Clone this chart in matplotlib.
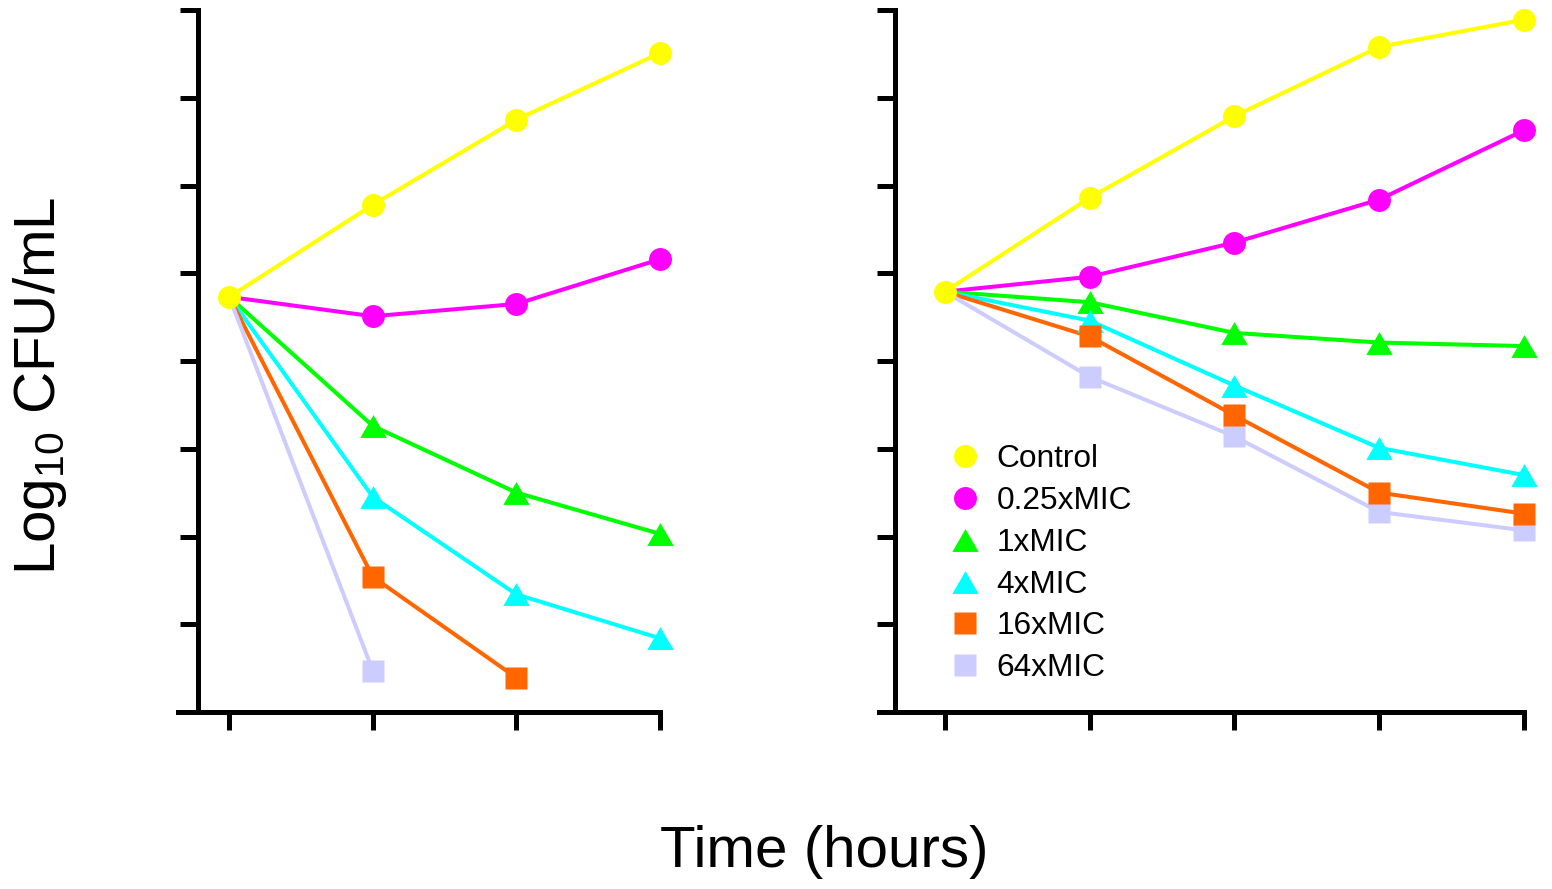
import matplotlib
matplotlib.use("Agg")
import matplotlib.pyplot as plt
from matplotlib.path import Path
from matplotlib.lines import Line2D

plt.rcParams['font.family'] = ['Liberation Sans', 'DejaVu Sans']
plt.rcParams['mathtext.fontset'] = 'custom'
plt.rcParams['mathtext.rm'] = 'Liberation Sans'
plt.rcParams['mathtext.default'] = 'regular'

# ---- data (log10 CFU/mL) ----
series_names = ["Control", "0.25xMIC", "1xMIC", "4xMIC", "16xMIC", "64xMIC"]

left_time_idx = [0, 1, 2, 3]
left_control = [4.73, 5.78, 6.75, 7.51]
left_q025 = [4.73, 4.51, 4.65, 5.16]
left_mic1 = [4.73, 3.26, 2.50, 2.03]
left_mic4 = [4.73, 2.45, 1.34, 0.84]
left_mic16 = [4.73, 1.54, 0.39]
left_mic64 = [4.73, 0.47]

right_time_idx = [0, 1, 2, 3, 4]
right_control = [4.79, 5.86, 6.79, 7.58, 7.89]
right_q025 = [4.79, 4.96, 5.35, 5.84, 6.63]
right_mic1 = [4.79, 4.67, 4.32, 4.21, 4.17]
right_mic4 = [4.79, 4.46, 3.72, 3.01, 2.70]
right_mic16 = [4.79, 4.28, 3.38, 2.50, 2.26]
right_mic64 = [4.79, 3.82, 3.14, 2.28, 2.07]

y_ticks = [0, 1, 2, 3, 4, 5, 6, 7, 8]

# ---- styles ----
tri = Path([(0, 0.866), (-1, -0.866), (1, -0.866), (0, 0.866)],
           [Path.MOVETO, Path.LINETO, Path.LINETO, Path.CLOSEPOLY])
colors = ["#FFFF00", "#FF00FF", "#00FF00", "#00FFFF", "#FF6600", "#CCCCFF"]
markers = ["o", "o", tri, tri, "s", "s"]
msizes = [16.5, 16.5, 19, 19, 16, 16]
mzorder = [9, 8, 5, 6, 7, 4]
LW = 2.9

fig = plt.figure(figsize=(15.52, 8.89), dpi=100)
W, H = 1552, 889


def make_axes(x0, x1, y_top, y_bot):
    return fig.add_axes([x0 / W, (H - y_bot) / H, (x1 - x0) / W, (y_bot - y_top) / H])


def style_axes(ax, xmin, xmax, yaxis_x, xticks):
    ax.set_xlim(xmin, xmax)
    ax.set_ylim(0, 8)
    for s in ("top", "right"):
        ax.spines[s].set_visible(False)
    for s in ("left", "bottom"):
        ax.spines[s].set_linewidth(3.6)
        ax.spines[s].set_capstyle("projecting")
    ax.spines["left"].set_position(("data", yaxis_x))
    ax.set_xticks(xticks)
    ax.set_yticks(y_ticks)
    ax.tick_params(axis="both", direction="out", length=13, width=3.6,
                   labelbottom=False, labelleft=False)
    ax.patch.set_visible(False)


def draw_series(ax, x, ys):
    for i, y in enumerate(ys):
        xs = x[:len(y)]
        ax.plot(xs, y, color=colors[i], lw=LW, zorder=2, clip_on=False,
                solid_capstyle="round")
        # the shared starting point is shown by the control marker only
        every = None if i == 0 else slice(1, None)
        ax.plot(xs, y, linestyle="none", marker=markers[i], ms=msizes[i],
                mfc=colors[i], mec="none", zorder=mzorder[i], clip_on=False,
                markevery=every)


ax1 = make_axes(178, 660, 10, 712)
style_axes(ax1, -0.357, 3.0, -0.218, left_time_idx)
draw_series(ax1, left_time_idx,
            [left_control, left_q025, left_mic1, left_mic4, left_mic16, left_mic64])

ax2 = make_axes(879, 1524, 10, 712)
style_axes(ax2, -0.455, 4.0, -0.345, right_time_idx)
draw_series(ax2, right_time_idx,
            [right_control, right_q025, right_mic1, right_mic4, right_mic16, right_mic64])

handles = [Line2D([], [], linestyle="none", marker=markers[i], ms=msizes[i],
                  mfc=colors[i], mec="none") for i in range(6)]
leg = ax2.legend(handles, series_names, loc="upper left",
                 bbox_to_anchor=(949 / W, (H - 444) / H), bbox_transform=fig.transFigure,
                 frameon=False, fontsize=22.8, handlelength=1.0, handletextpad=0.5,
                 labelspacing=0.375, borderpad=0, borderaxespad=0)

fig.text(824 / W, (H - 852) / H, "Time (hours)", fontsize=42, ha="center", va="center")
fig.text(40 / W, (H - 386) / H, "Log$_{10}$ CFU/mL", fontsize=42, rotation=90,
         ha="center", va="center")

fig.savefig("out.png", dpi=100)
